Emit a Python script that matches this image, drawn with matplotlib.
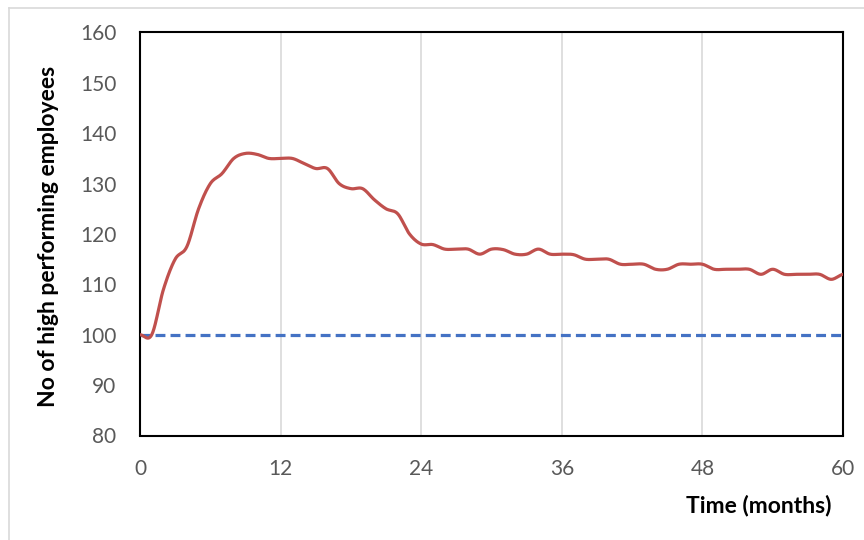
import numpy as np
import matplotlib.pyplot as plt
from matplotlib.lines import Line2D

plt.rcParams['font.family'] = ['Lato', 'DejaVu Sans']

# monthly values
months = list(range(0, 61))
employees = [100, 100, 109, 115, 117.5, 125, 130, 132, 135, 136,
             135.8, 135, 135, 135, 134, 133, 133, 130, 129, 129,
             126.8, 125, 124, 120, 118, 117.9, 117, 117, 117, 116,
             117, 116.9, 116, 116, 117, 116, 116, 115.9, 115, 115,
             115, 114, 114, 114, 113, 113, 114, 114, 114, 113,
             113, 113, 113, 112, 113, 112, 112, 112, 112, 111,
             112]
baseline = 100

xticks = [0, 12, 24, 36, 48, 60]
yticks = [80, 90, 100, 110, 120, 130, 140, 150, 160]


def smooth(x, y, n=20):
    # Catmull-Rom style smoothing like the spreadsheet's smoothed line
    x = np.asarray(x, float)
    y = np.asarray(y, float)
    xp = np.concatenate([[x[0] - (x[1] - x[0])], x, [x[-1] + (x[-1] - x[-2])]])
    yp = np.concatenate([[y[0]], y, [y[-1]]])
    xs, ys = [], []
    t = np.linspace(0, 1, n, endpoint=False)
    for i in range(1, len(xp) - 2):
        p0, p1, p2, p3 = yp[i - 1], yp[i], yp[i + 1], yp[i + 2]
        c1 = p1 + (p2 - p0) / 6
        c2 = p2 - (p3 - p1) / 6
        b = (1 - t) ** 3 * p1 + 3 * (1 - t) ** 2 * t * c1 + 3 * (1 - t) * t ** 2 * c2 + t ** 3 * p2
        xs.extend(xp[i] + t * (xp[i + 1] - xp[i]))
        ys.extend(b)
    xs.append(x[-1])
    ys.append(y[-1])
    return np.array(xs), np.array(ys)


fig = plt.figure(figsize=(8.64, 5.4), dpi=100)
ax = fig.add_axes([140 / 864, 1 - 435.5 / 540, (843 - 140) / 864, (435.5 - 32.5) / 540])

sx, sy = smooth(months, employees)
ax.plot(sx, sy, color='#C0504D', linewidth=2.3, zorder=3, solid_capstyle='round')
ax.axhline(baseline, color='#4472C4', linewidth=2.3, linestyle=(0, (3.1, 1.6)), zorder=2)

ax.set_xlim(0, 60)
ax.set_ylim(80, 160)
ax.set_xticks(xticks)
ax.set_yticks(yticks)
ax.grid(axis='x', color='#D9D9D9', linewidth=1.2)
ax.grid(axis='y', visible=False)
ax.set_axisbelow(True)
ax.tick_params(length=0, labelsize=15, labelcolor='#595959', pad=17)
for s in ax.spines.values():
    s.set_color('black')
    s.set_linewidth(1.5)

fig.text(832 / 864, 1 - 506 / 540, 'Time (months)', ha='right', va='center',
         fontsize=16.5, fontweight='bold')
fig.text(49 / 864, 1 - 236 / 540, 'No of high performing employees', rotation=90,
         ha='center', va='center', fontsize=16.5, fontweight='bold')

# outer chart border (partly cut off)
fig.add_artist(Line2D([9 / 864, 1], [1 - 8 / 540, 1 - 8 / 540], color='#D9D9D9', linewidth=1.2,
                      transform=fig.transFigure))
fig.add_artist(Line2D([9 / 864, 9 / 864], [0, 1 - 8 / 540], color='#D9D9D9', linewidth=1.2,
                      transform=fig.transFigure))

fig.savefig('out.png', dpi=100)
